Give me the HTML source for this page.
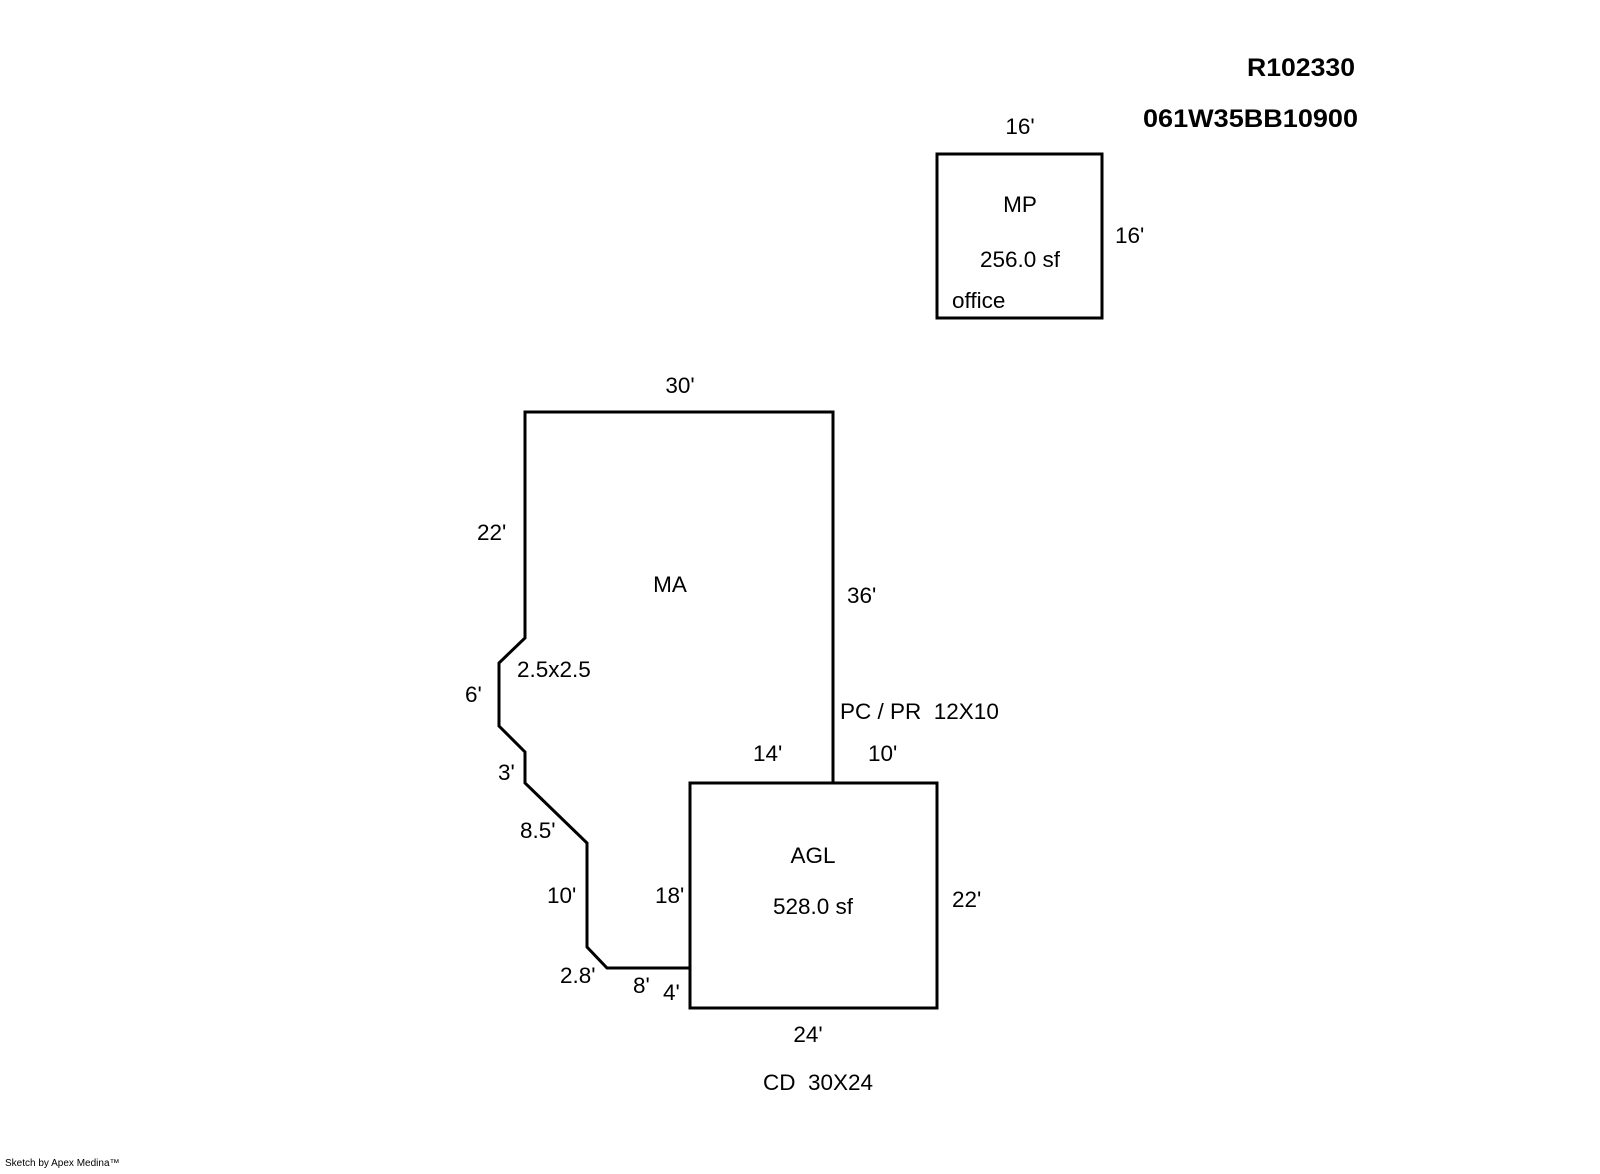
<!DOCTYPE html>
<html><head><style>
html,body{margin:0;padding:0;background:#fff;}
svg{display:block}
text{font-family:"Liberation Sans",Arial,sans-serif;font-size:22.5px;fill:#000}
</style></head><body>
<svg width="1600" height="1174" viewBox="0 0 1600 1174" xmlns="http://www.w3.org/2000/svg">
<g fill="none" stroke="#000" stroke-width="3" stroke-linejoin="miter">
<polyline points="833,783 833,412 525,412 525,638 499,663 499,726 525,752 525,783 587,843 587,947 607,968 690,968"/>
<rect x="690" y="783" width="247" height="225"/>
<rect x="937" y="154" width="165" height="164"/>
</g>
<text x="680" y="393" text-anchor="middle">30'</text>
<text x="670" y="592" text-anchor="middle">MA</text>
<text x="847" y="603">36'</text>
<text x="477" y="540">22'</text>
<text x="517" y="677">2.5x2.5</text>
<text x="465" y="702">6'</text>
<text x="498" y="780">3'</text>
<text x="520" y="838">8.5'</text>
<text x="547" y="903">10'</text>
<text x="655" y="903">18'</text>
<text x="560" y="983">2.8'</text>
<text x="633" y="993">8'</text>
<text x="663" y="1000">4'</text>
<text x="840" y="719" xml:space="preserve">PC / PR  12X10</text>
<text x="753" y="761">14'</text>
<text x="868" y="761">10'</text>
<text x="813" y="863" text-anchor="middle">AGL</text>
<text x="813" y="914" text-anchor="middle">528.0 sf</text>
<text x="952" y="907">22'</text>
<text x="808" y="1042" text-anchor="middle">24'</text>
<text x="763" y="1090" xml:space="preserve">CD  30X24</text>
<text x="1020" y="134" text-anchor="middle">16'</text>
<text x="1020" y="212" text-anchor="middle">MP</text>
<text x="1020" y="267" text-anchor="middle">256.0 sf</text>
<text x="952" y="308">office</text>
<text x="1115" y="243">16'</text>
<text x="1247" y="76" style="font-size:25px;font-weight:bold" textLength="108" lengthAdjust="spacingAndGlyphs">R102330</text>
<text x="1143" y="127" style="font-size:25px;font-weight:bold" textLength="215" lengthAdjust="spacingAndGlyphs">061W35BB10900</text>
<text x="5" y="1166" style="font-size:10px">Sketch by Apex Medina™</text>
</svg>
</body></html>
